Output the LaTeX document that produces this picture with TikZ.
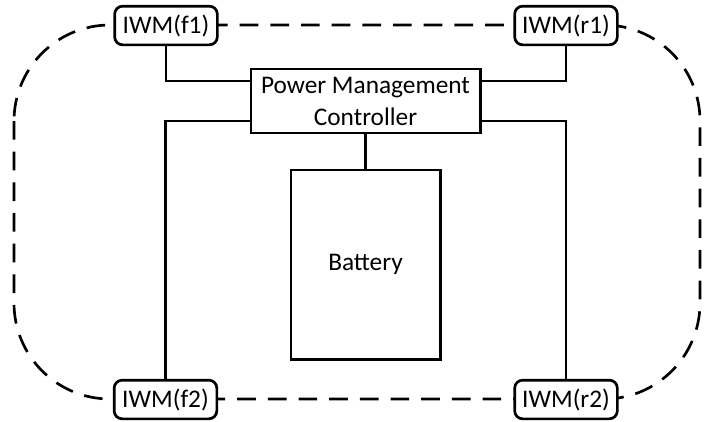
\documentclass[tikz,border=0pt]{standalone}
\usepackage{fontspec}
\setmainfont{Carlito}
\usepackage{tikz}
\usetikzlibrary{calc}
\definecolor{ink}{HTML}{000000}
\tikzset{
  blk/.style={draw=ink, fill=white, line width=2pt, align=center,
              font=\fontsize{19}{24}\selectfont, inner sep=0pt},
  wheel/.style={blk, rounded corners=6pt, minimum width=77pt, minimum height=29pt},
  wire/.style={draw=ink, line width=2pt},
  loop/.style={draw=ink, line width=2pt, dash pattern=on 14pt off 9pt, rounded corners=72pt},
}
\begin{document}
\begin{tikzpicture}[x=0.75pt, y=-0.75pt]
  \useasboundingbox (0,0) rectangle (709,421);
  % outer dashed loop, nodes sit on top of it
  \draw[loop] (14,25) rectangle (700,399);
  \node[blk, minimum width=172pt, minimum height=48pt] (pmc) at (365.5,101) {Power Management\\Controller};
  \node[blk, minimum width=112pt, minimum height=142pt] (bat) at (365.5,264.5) {Battery};
  \node[wheel] (f1) at (166,25.5) {IWM(f1)};
  \node[wheel] (r1) at (566,25.5) {IWM(r1)};
  \node[wheel] (f2) at (165.5,399.5) {IWM(f2)};
  \node[wheel] (r2) at (566,399.5) {IWM(r2)};
  \draw[wire] (f1.south) |- ($(pmc.north west)!0.2!(pmc.south west)$);
  \draw[wire] (r1.south) |- ($(pmc.north east)!0.2!(pmc.south east)$);
  \draw[wire] (f2.north) |- ($(pmc.north west)!0.8!(pmc.south west)$);
  \draw[wire] (r2.north) |- ($(pmc.north east)!0.8!(pmc.south east)$);
  \draw[wire] (pmc.south) -- (bat.north);
\end{tikzpicture}
\end{document}
